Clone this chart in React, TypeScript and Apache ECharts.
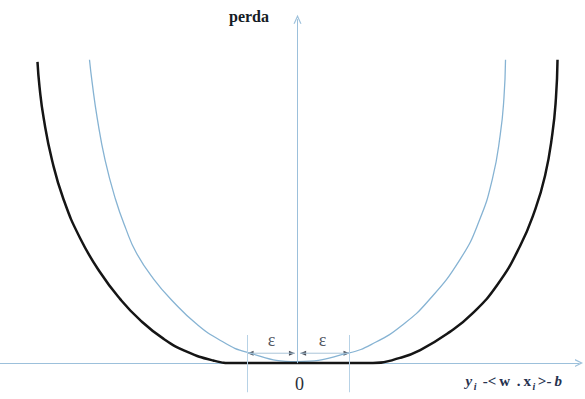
import React, { useEffect, useRef } from "react";
import * as echarts from "echarts";

// Residual (x) and loss (y), both in units of ε.
// Thin curve: ordinary loss.
const plainX = [-4.0, -3.95, -3.85, -3.7, -3.5, -3.3, -3.1, -2.77, -2.39, -1.94, -1.49, -0.98, 0, 0.97, 1.5, 2.0, 2.5, 3.13, 3.5, 3.75, 3.9, 3.97, 4.0];
const plainY = [5.83, 5.4, 4.7, 3.9, 3.15, 2.58, 2.12, 1.62, 1.18, 0.75, 0.44, 0.21, 0.03, 0.19, 0.4, 0.72, 1.18, 2.0, 2.75, 3.55, 4.4, 5.1, 5.83];

// Thick curve: ε-insensitive loss (zero inside the tube).
const epsLossX = [-5.0, -4.96, -4.88, -4.72, -4.5, -4.18, -3.8, -3.41, -3.03, -2.58, -2.13, -1.62, -1.23, 0, 1.45, 1.97, 2.36, 2.93, 3.36, 3.84, 4.28, 4.57, 4.76, 4.9, 4.97, 5.0];
const epsLossY = [5.79, 5.3, 4.7, 3.9, 3.15, 2.4, 1.75, 1.23, 0.83, 0.47, 0.22, 0.05, 0, 0, 0, 0.1, 0.25, 0.6, 0.95, 1.5, 2.25, 2.95, 3.6, 4.4, 5.1, 5.83];

// Tube boundaries (−ε, +ε) and the marks drawn around them.
const tubeBounds = [-0.96, 1.0];
const tubeMarkSpan = [-0.56, 0.54];
const arrowLevel = 0.19;
const arrowGap = 0.05;
const epsLabelX = [-0.5, 0.48];
const epsLabelY = 0.44;

// Axis extents
const xRange = [-5.721, 5.413];
const yRange = [-0.69, 6.71];

const pairs = (xs: number[], ys: number[]) => xs.map((x, i) => [x, ys[i]]);

const AXIS_COLOR = "#9cc0db";
const SERIF = '"Liberation Serif", "Times New Roman", serif';
const CHEVRON = "path://M0,10L5,0L10,10L8.4,10L5,3.2L1.6,10Z";
const HEAD_RIGHT = "path://M0,0L10,4L0,8Z";
const HEAD_LEFT = "path://M10,0L0,4L10,8Z";

export default function App() {
  const ref = useRef<HTMLDivElement>(null);

  useEffect(() => {
    if (!ref.current) return;
    const chart = echarts.init(ref.current, undefined, { renderer: "svg" });

    const headData = [
      { value: [tubeBounds[0], arrowLevel], symbol: HEAD_LEFT, symbolOffset: [3, 0] },
      { value: [-arrowGap, arrowLevel], symbol: HEAD_RIGHT, symbolOffset: [-3, 0] },
      { value: [arrowGap, arrowLevel], symbol: HEAD_LEFT, symbolOffset: [3, 0] },
      { value: [tubeBounds[1], arrowLevel], symbol: HEAD_RIGHT, symbolOffset: [-3, 0] },
    ];

    const labelToken = (extra: object) => ({
      fontFamily: SERIF,
      fontWeight: "bold",
      fontSize: 15,
      lineHeight: 18,
      verticalAlign: "top",
      padding: [0, 1.5, 0, 1.5],
      ...extra,
    });

    chart.setOption({
      animation: false,
      backgroundColor: "#ffffff",
      grid: { left: 0, right: 6, top: 14, bottom: 0 },
      xAxis: {
        type: "value",
        min: xRange[0],
        max: xRange[1],
        axisLine: {
          show: true,
          onZero: true,
          lineStyle: { color: AXIS_COLOR, width: 1 },
          symbol: ["none", CHEVRON],
          symbolSize: [8, 9],
        },
        axisTick: { show: false },
        axisLabel: { show: false },
        splitLine: { show: false },
      },
      yAxis: {
        type: "value",
        min: yRange[0],
        max: yRange[1],
        axisLine: { show: false },
        axisTick: { show: false },
        axisLabel: { show: false },
        splitLine: { show: false },
      },
      series: [
        {
          name: "tube",
          type: "line",
          data: [],
          silent: true,
          markLine: {
            silent: true,
            symbol: ["none", "none"],
            label: { show: false },
            lineStyle: { color: "#b7d2e6", width: 1, type: "solid" },
            data: tubeBounds.map((b) => [
              { coord: [b, tubeMarkSpan[0]] },
              { coord: [b, tubeMarkSpan[1]] },
            ]),
          },
        },
        {
          name: "vertical axis",
          type: "line",
          data: [],
          silent: true,
          markLine: {
            silent: true,
            symbol: ["none", CHEVRON],
            symbolSize: [8, 9],
            label: { show: false },
            lineStyle: { color: AXIS_COLOR, width: 1, type: "solid" },
            data: [[{ coord: [0, 0] }, { coord: [0, yRange[1] - 0.1] }]],
          },
        },
        {
          name: "plain",
          type: "line",
          data: pairs(plainX, plainY),
          smooth: 0.5,
          showSymbol: false,
          lineStyle: { color: "#86b3d3", width: 1.3 },
          silent: true,
        },
        {
          name: "eps-insensitive",
          type: "line",
          data: pairs(epsLossX, epsLossY),
          smooth: 0.5,
          showSymbol: false,
          lineStyle: { color: "#151515", width: 2.5 },
          silent: true,
        },
        {
          name: "arrow left",
          type: "line",
          data: [[tubeBounds[0], arrowLevel], [-arrowGap, arrowLevel]],
          showSymbol: false,
          lineStyle: { color: "#a9c4d8", width: 1 },
          silent: true,
        },
        {
          name: "arrow right",
          type: "line",
          data: [[arrowGap, arrowLevel], [tubeBounds[1], arrowLevel]],
          showSymbol: false,
          lineStyle: { color: "#a9c4d8", width: 1 },
          silent: true,
        },
        {
          name: "heads",
          type: "scatter",
          data: headData,
          symbolSize: [6, 5],
          itemStyle: { color: "#1d2330" },
          silent: true,
        },
        {
          name: "eps labels",
          type: "scatter",
          data: epsLabelX.map((x) => [x, epsLabelY]),
          symbolSize: 0,
          silent: true,
          label: {
            show: true,
            position: "inside",
            formatter: "ε",
            fontFamily: SERIF,
            fontSize: 18,
            color: "#222a36",
          },
        },
      ],
      graphic: [
        {
          type: "text",
          left: 229,
          top: 8,
          silent: true,
          style: {
            text: "perda",
            font: `bold 16px ${SERIF}`,
            fill: "#161b26",
          },
        },
        {
          type: "text",
          left: 295,
          top: 375,
          silent: true,
          style: {
            text: "0",
            font: `18px ${SERIF}`,
            fill: "#2a2f38",
          },
        },
        {
          type: "text",
          left: 464,
          top: 373,
          silent: true,
          style: {
            text: "{v|y}{s|i}{t| -<}{t|w}{t| .}{t|x}{s|i}{t|>-}{v|b}",
            fill: "#27324f",
            rich: {
              v: labelToken({ fontStyle: "italic" }),
              s: labelToken({ fontStyle: "italic", fontSize: 10, lineHeight: 12, padding: [8, 1, 0, 0] }),
              t: labelToken({}),
            },
          },
        },
      ],
    });

    return () => chart.dispose();
  }, []);

  return (
    <div
      ref={ref}
      style={{ position: "fixed", left: 0, top: 0, width: 585, height: 399 }}
    />
  );
}
